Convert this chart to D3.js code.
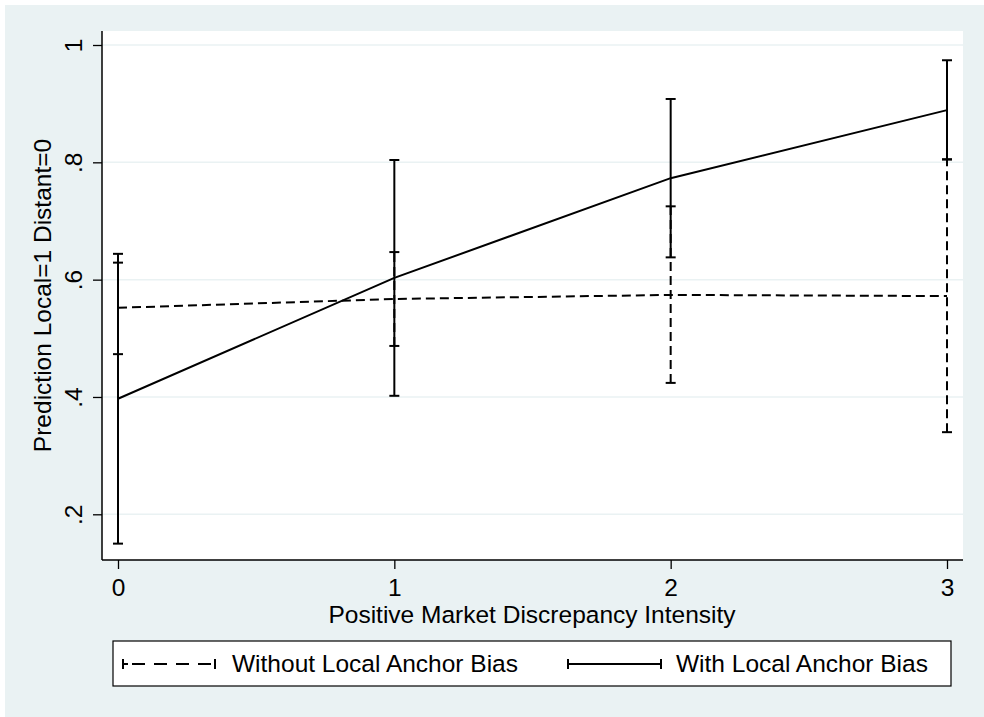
<!DOCTYPE html>
<html>
<head>
<meta charset="utf-8">
<script src="https://cdn.jsdelivr.net/npm/d3@7"></script>
<style>
  body { margin: 0; background: #fff; }
  svg text { font-family: "Liberation Sans", Arial, sans-serif; fill: #000; }
</style>
</head>
<body>
<div id="chart"></div>
<script>
// values
let xCats = [0, 1, 2, 3],
    yTicks = [0.2, 0.4, 0.6, 0.8, 1],
    yTickLabels = [".2", ".4", ".6", ".8", "1"],
    withoutMean = [0.552, 0.567, 0.574, 0.572],
    withoutLo = [0.473, 0.487, 0.424, 0.340],
    withoutHi = [0.629, 0.647, 0.725, 0.805],
    withMean = [0.397, 0.603, 0.773, 0.889],
    withLo = [0.150, 0.402, 0.638, 0.805],
    withHi = [0.644, 0.804, 0.908, 0.974],
    seriesNames = ["Without Local Anchor Bias", "With Local Anchor Bias"];

let W = 984, H = 717,
    bg = "#eaf2f3",
    plot = {left: 102, right: 963, top: 31, bottom: 560},
    dash = "9,5",
    fs = 24.5;

let svg = d3.select("#chart").append("svg")
    .attr("width", W)
    .attr("height", H);

svg.append("rect")
    .attr("x", 5).attr("y", 5)
    .attr("width", W - 5).attr("height", H - 5)
    .attr("fill", bg);

svg.append("rect")
    .attr("x", plot.left).attr("y", plot.top)
    .attr("width", plot.right - plot.left)
    .attr("height", plot.bottom - plot.top)
    .attr("fill", "#fff");

let x = d3.scaleLinear().domain([0, 3]).range([118, 947]);
let y = d3.scaleLinear().domain([0.2, 1]).range([514.3, 45]);

// gridlines
svg.append("g").selectAll("line")
    .data(yTicks)
    .enter().append("line")
    .attr("x1", plot.left).attr("x2", plot.right)
    .attr("y1", d => y(d)).attr("y2", d => y(d))
    .attr("stroke", bg)
    .attr("stroke-width", 1.5);

// axes
let yAxis = d3.axisLeft(y).tickValues(yTicks)
    .tickFormat((d, i) => yTickLabels[i])
    .tickSize(9);
let gy = svg.append("g")
    .attr("transform", "translate(" + plot.left + ",0)")
    .call(yAxis);
gy.select(".domain").attr("d", "M0," + plot.top + "V" + plot.bottom)
    .attr("stroke", "#000").attr("stroke-width", 1.5);
gy.selectAll(".tick line").attr("stroke", "#000").attr("stroke-width", 1.3);
gy.selectAll(".tick text")
    .attr("font-size", fs)
    .attr("text-anchor", "middle")
    .attr("dy", 0)
    .attr("x", 0)
    .attr("transform", "translate(-20,0) rotate(-90)");

let xAxis = d3.axisBottom(x).tickValues(xCats)
    .tickFormat(d3.format("d"))
    .tickSize(9);
let gx = svg.append("g")
    .attr("transform", "translate(0," + plot.bottom + ")")
    .call(xAxis);
gx.select(".domain").attr("d", "M" + plot.left + ",0H" + plot.right)
    .attr("stroke", "#000").attr("stroke-width", 1.5);
gx.selectAll(".tick line").attr("stroke", "#000").attr("stroke-width", 1.3);
gx.selectAll(".tick text")
    .attr("font-size", fs)
    .attr("y", 36)
    .attr("dy", 0);

// axis titles
svg.append("text")
    .attr("x", 532).attr("y", 623)
    .attr("text-anchor", "middle")
    .attr("font-size", fs)
    .text("Positive Market Discrepancy Intensity");

svg.append("text")
    .attr("transform", "translate(51," + ((plot.top + plot.bottom) / 2) + ") rotate(-90)")
    .attr("text-anchor", "middle")
    .attr("font-size", fs)
    .text("Prediction Local=1 Distant=0");

// series
let series = [
    {mean: withoutMean, lo: withoutLo, hi: withoutHi, dash: dash},
    {mean: withMean, lo: withLo, hi: withHi, dash: null}
];

let line = d3.line().x((d, i) => x(xCats[i])).y(d => y(d));
let capW = 5;

series.forEach(function (s) {
    let g = svg.append("g");
    xCats.forEach(function (c, i) {
        g.append("line")
            .attr("x1", x(c)).attr("x2", x(c))
            .attr("y1", y(s.lo[i])).attr("y2", y(s.hi[i]))
            .attr("stroke", "#000").attr("stroke-width", 2)
            .attr("stroke-dasharray", s.dash);
        [s.lo[i], s.hi[i]].forEach(function (v) {
            g.append("line")
                .attr("x1", x(c) - capW).attr("x2", x(c) + capW)
                .attr("y1", y(v)).attr("y2", y(v))
                .attr("stroke", "#000").attr("stroke-width", 2);
        });
    });
    g.append("path")
        .attr("d", line(s.mean))
        .attr("fill", "none")
        .attr("stroke", "#000").attr("stroke-width", 2)
        .attr("stroke-dasharray", s.dash);
});

// legend
let leg = svg.append("g");
leg.append("rect")
    .attr("x", 113).attr("y", 641)
    .attr("width", 838).attr("height", 45)
    .attr("fill", "#fff")
    .attr("stroke", "#000").attr("stroke-width", 1.2);

let legItems = [
    {x0: 123, x1: 215, tx: 232, dash: "13,9", pad: 9, name: seriesNames[0]},
    {x0: 568, x1: 661, tx: 676, dash: null, pad: 0, name: seriesNames[1]}
];
let ly = 664;
legItems.forEach(function (d) {
    leg.append("line")
        .attr("x1", d.x0 + d.pad).attr("x2", d.x1)
        .attr("y1", ly).attr("y2", ly)
        .attr("stroke", "#000").attr("stroke-width", 2)
        .attr("stroke-dasharray", d.dash);
    if (d.pad) {
        leg.append("line")
            .attr("x1", d.x0).attr("x2", d.x0 + 5)
            .attr("y1", ly).attr("y2", ly)
            .attr("stroke", "#000").attr("stroke-width", 2);
    }
    [d.x0, d.x1].forEach(function (px) {
        leg.append("line")
            .attr("x1", px).attr("x2", px)
            .attr("y1", ly - 5).attr("y2", ly + 5)
            .attr("stroke", "#000").attr("stroke-width", 2);
    });
    leg.append("text")
        .attr("x", d.tx).attr("y", ly + 8)
        .attr("font-size", fs)
        .text(d.name);
});
</script>
</body>
</html>
